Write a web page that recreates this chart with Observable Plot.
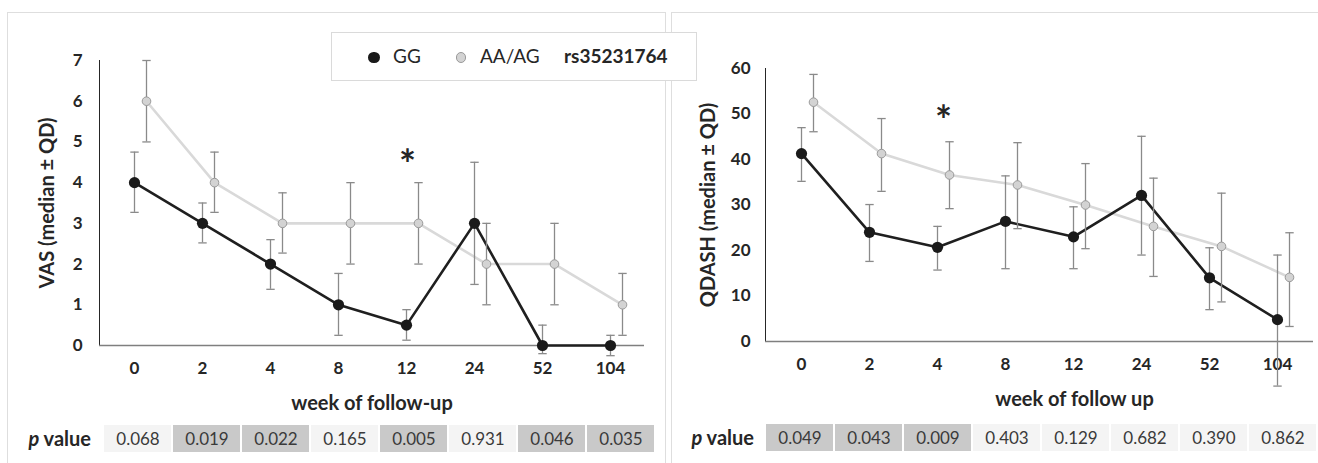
<!DOCTYPE html>
<html><head><meta charset="utf-8">
<script src="https://cdn.jsdelivr.net/npm/d3@7"></script>
<script src="https://cdn.jsdelivr.net/npm/@observablehq/plot@0.6"></script>
<style>
body{margin:0;background:#fff;font-family:Lato,sans-serif;}
#root{position:relative;width:1318px;height:463px;overflow:hidden;background:#fff;}
.panel{position:absolute;border:1.5px solid #dedede;background:#fff;box-sizing:border-box;}
.plab{position:absolute;height:28px;line-height:28px;text-align:right;font-size:20px;font-weight:bold;color:#262626;}
.legend{position:absolute;border:1.5px solid #dadada;background:#fff;box-sizing:border-box;font-size:19px;color:#262626;}
.legend span{position:absolute;top:0;line-height:46px;white-space:nowrap;}
.ldot{position:absolute;border-radius:50%;box-sizing:border-box;}
svg.chart g[aria-label="x-axis tick label"], svg.chart g[aria-label="y-axis tick label"],
svg.chart g[aria-label="x-axis"] text, svg.chart g[aria-label="y-axis"] text{font-size:17px;font-weight:bold;}
svg.chart g[aria-label="y-axis"] path, svg.chart g[aria-label="y-axis line"] {color:#555;}
</style></head><body><div id="root"></div>
<script>
// ---- data ----
const weeks = ["0","2","4","8","12","24","52","104"];
const groups = ["GG","AA/AG"];
const snp = "rs35231764";
// VAS (median, lower and upper error bar ends = median ± QD)
const vasGG   = [4, 3, 2, 1, 0.5, 3, 0, 0];
const vasGGlo = [3.27, 2.52, 1.38, 0.25, 0.13, 1.5, -0.2, -0.25];
const vasGGhi = [4.75, 3.5, 2.6, 1.77, 0.88, 4.5, 0.5, 0.25];
const vasAA   = [6, 4, 3, 3, 3, 2, 2, 1];
const vasAAlo = [5, 3.27, 2.27, 2, 2, 1, 1, 0.25];
const vasAAhi = [7, 4.75, 3.75, 4, 4, 3, 3, 1.77];
// QDASH
const qdGG   = [41.3, 24, 20.7, 26.4, 23, 32.1, 14, 4.8];
const qdGGlo = [35.2, 17.6, 15.7, 16, 16, 19, 7, -9.8];
const qdGGhi = [47, 30.1, 25.3, 36.4, 29.6, 45.1, 20.6, 19];
const qdAA   = [52.6, 41.3, 36.6, 34.4, 30, 25.3, 20.9, 14.1];
const qdAAlo = [46.1, 33, 29.2, 24.8, 20.4, 14.3, 8.7, 3.3];
const qdAAhi = [58.7, 49, 43.9, 43.7, 39.1, 35.9, 32.6, 23.9];
// p values
const pVAS = [0.068, 0.019, 0.022, 0.165, 0.005, 0.931, 0.046, 0.035];
const pQD  = [0.049, 0.043, 0.009, 0.403, 0.129, 0.682, 0.390, 0.862];
// ticks
const vasTicks = [0, 1, 2, 3, 4, 5, 6, 7];
const qdTicks  = [0, 10, 20, 30, 40, 50, 60];
// significance markers
const sigVAS = [{week: "12", value: 4.6}];
const sigQD  = [{week: "4", value: 50}];

// ---- build ----
function rowsOf(g, v, lo, hi) { return weeks.map((w, i) => ({week: w, group: g, value: v[i], lo: lo[i], hi: hi[i]})); }
const root = document.getElementById("root");
function add(el, css) { Object.assign(el.style, css); root.appendChild(el); return el; }

function panel(l, t, w, h) { const d = document.createElement("div"); d.className = "panel"; add(d, {left: l+"px", top: t+"px", width: w+"px", height: h+"px"}); }
panel(7, 12, 659, 470);
panel(671, 12, 660, 470);

const capSym = {draw(ctx) { ctx.moveTo(-4.2, 0); ctx.lineTo(4.2, 0); }};

function chart(o) {
  const gg = o.gg, aa = o.aa, off = 12;
  const H = 420;
  const errStyle = {stroke: "#8a8a8a", strokeWidth: 1.3};
  const svg = Plot.plot({
    width: o.width, height: H,
    marginLeft: o.mL, marginRight: o.mR, marginTop: o.mT, marginBottom: H - o.axisY,
    style: {fontFamily: "Lato, sans-serif", fontSize: "17px", fontWeight: "bold", color: "#262626", background: "transparent", overflow: "visible"},
    x: {type: "point", domain: weeks, padding: 0.5, tickSize: 0, tickPadding: 16, label: null},
    y: {domain: o.domain, ticks: o.ticks, tickFormat: d => String(d), tickSize: 0, tickPadding: o.tp, label: null, line: true},
    marks: [
      Plot.ruleY([o.domain[0]], {stroke: "#7f7f7f", strokeWidth: 1.4}),
      Plot.lineY(aa, {x: "week", y: "value", stroke: "#d9d9d9", strokeWidth: 2.6, dx: off}),
      Plot.lineY(gg, {x: "week", y: "value", stroke: "#1f1f1f", strokeWidth: 2.6}),
      Plot.ruleX(gg, {x: "week", y1: "lo", y2: "hi", ...errStyle}),
      Plot.ruleX(aa, {x: "week", y1: "lo", y2: "hi", ...errStyle, dx: off}),
      Plot.dot(gg, {x: "week", y: "hi", symbol: capSym, fill: "none", ...errStyle}),
      Plot.dot(gg, {x: "week", y: "lo", symbol: capSym, fill: "none", ...errStyle}),
      Plot.dot(aa, {x: "week", y: "hi", symbol: capSym, fill: "none", ...errStyle, dx: off}),
      Plot.dot(aa, {x: "week", y: "lo", symbol: capSym, fill: "none", ...errStyle, dx: off}),
      Plot.dot(aa, {x: "week", y: "value", r: 4.3, fill: "#d3d3d3", stroke: "#9a9a9a", strokeWidth: 1, dx: off}),
      Plot.dot(gg, {x: "week", y: "value", r: 5.6, fill: "#1a1a1a"}),
      Plot.text(o.sig, {x: "week", y: "value", text: () => "*", fontSize: 40, fontWeight: "bold", fill: "#262626", dx: o.sigDx, dy: 8}),
      Plot.text([o.ylabel], {text: d => d, frameAnchor: "left", textAnchor: "middle", lineAnchor: "middle", rotate: -90, dx: o.ylDx, fontSize: 20, fontWeight: "bold", fill: "#262626"}),
      Plot.text([o.xlabel], {text: d => d, frameAnchor: "bottom", textAnchor: "middle", lineAnchor: "middle", dy: 58, dx: o.xlDx, fontSize: 20, fontWeight: "bold", fill: "#262626"})
    ]
  });
  svg.classList.add("chart");
  return svg;
}

function pTable(ps, width, l, r, h) {
  const rows = weeks.map((w, i) => ({week: w, p: ps[i], s: ps[i] < 0.05 ? "sig" : "ns"}));
  return Plot.plot({
    width, height: h, marginTop: 0, marginBottom: 0, marginLeft: l, marginRight: width - r,
    style: {fontFamily: "Lato, sans-serif", background: "transparent", overflow: "visible"},
    x: {type: "band", domain: weeks, paddingInner: 0.035, paddingOuter: 0, axis: null},
    color: {domain: ["sig", "ns"], range: ["#c9c9c9", "#f4f4f4"]},
    marks: [
      Plot.cell(rows, {x: "week", fill: "s"}),
      Plot.text(rows, {x: "week", text: d => d.p.toFixed(3), fontSize: 17, fill: "#3a3a3a", dy: 1})
    ]
  });
}

const c1 = chart({gg: rowsOf("GG", vasGG, vasGGlo, vasGGhi), aa: rowsOf("AA/AG", vasAA, vasAAlo, vasAAhi),
  width: 660, mL: 99, mR: 16, mT: 60, axisY: 345, domain: [0, 7], ticks: vasTicks, tp: 17,
  sig: sigVAS, sigDx: 1, ylabel: "VAS (median ± QD)", ylDx: -52, xlabel: "week of follow-up", xlDx: 0});
add(c1, {position: "absolute", left: "0px", top: "0px"});

const c2 = chart({gg: rowsOf("GG", qdGG, qdGGlo, qdGGhi), aa: rowsOf("AA/AG", qdAA, qdAAlo, qdAAhi),
  width: 658, mL: 105, mR: 5, mT: 68, axisY: 341, domain: [0, 60], ticks: qdTicks, tp: 15,
  sig: sigQD, sigDx: 6, ylabel: "QDASH (median ± QD)", ylDx: -57, xlabel: "week of follow up", xlDx: 35});
add(c2, {position: "absolute", left: "660px", top: "0px"});

const t1 = pTable(pVAS, 660, 100, 657, 27);
add(t1, {position: "absolute", left: "0px", top: "425px"});
const t2 = pTable(pQD, 658, 104, 658, 27);
add(t2, {position: "absolute", left: "660px", top: "424px"});

function plab(left, width, top) {
  const d = document.createElement("div"); d.className = "plab";
  d.innerHTML = '<i>p</i> value';
  add(d, {left: left + "px", width: width + "px", top: top + "px"});
}
plab(0, 91, 424);
plab(660, 94, 423);

// legend
const lg = document.createElement("div"); lg.className = "legend";
add(lg, {left: "331px", top: "32px", width: "366px", height: "49px"});
function ldot(cx, r, fill, stroke) {
  const d = document.createElement("div"); d.className = "ldot";
  Object.assign(d.style, {left: (cx - r) + "px", top: (24.5 - r) + "px", width: 2*r + "px", height: 2*r + "px", background: fill, border: stroke ? "1px solid " + stroke : "none"});
  lg.appendChild(d);
}
function ltext(x, t, bold) {
  const s = document.createElement("span"); s.textContent = t; s.style.left = x + "px"; if (bold) s.style.fontWeight = "bold"; lg.appendChild(s);
}
ldot(42, 5.8, "#1a1a1a");
ltext(61, groups[0]);
ldot(129, 5.3, "#d3d3d3", "#9a9a9a");
ltext(148, groups[1]);
ltext(232, snp, true);
</script></body></html>
